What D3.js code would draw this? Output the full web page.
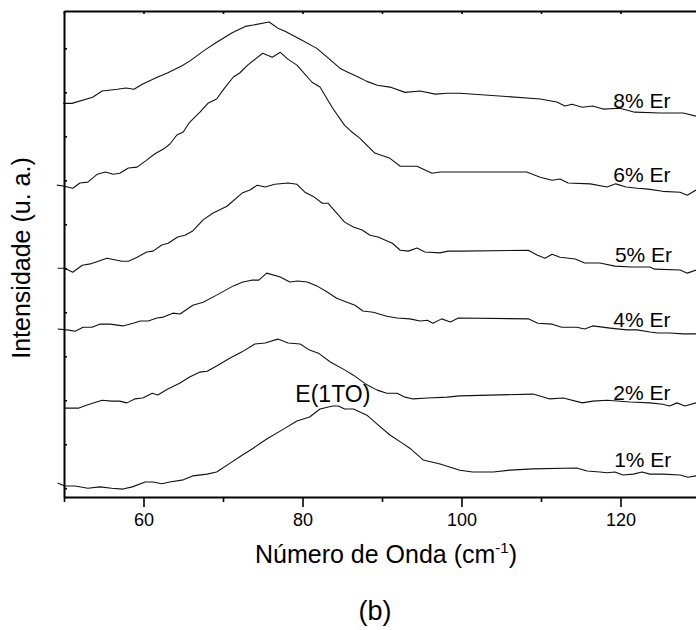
<!DOCTYPE html>
<html>
<head>
<meta charset="utf-8">
<script src="https://cdn.jsdelivr.net/npm/d3@7"></script>
<style>
  html, body { margin: 0; padding: 0; background: #fff; }
  svg { display: block; font-family: "Liberation Sans", Arial, sans-serif; }
</style>
</head>
<body>
<div id="chart"></div>
<script>
// ---- Data (wavenumber in cm^-1, intensity in arbitrary units, offset stacked) ----
const seriesNames = ["8% Er", "6% Er", "5% Er", "4% Er", "2% Er", "1% Er"];

const x8 = [49.9,51.0,53.6,54.8,56.7,57.8,58.8,59.9,61.8,63.0,64.8,65.8,67.7,69.2,71.1,71.8,72.8,73.8,75.8,76.9,77.8,79.7,81.8,83.1,84.7,85.7,87.0,88.1,89.4,91.0,92.9,94.8,96.7,98.2,99.8,109.9,112.0,113.0,113.9,115.2,116.5,117.8,119.9,121.8,125.0,127.9,129.5];
const y8 = [8.75,8.75,8.89,9.03,9.07,9.10,9.07,9.19,9.35,9.44,9.60,9.71,9.96,10.14,10.35,10.41,10.50,10.53,10.60,10.46,10.39,10.21,10.00,9.80,9.55,9.46,9.35,9.25,9.16,9.12,9.00,9.03,8.96,8.98,8.98,8.85,8.78,8.69,8.73,8.66,8.69,8.62,8.64,8.55,8.53,8.53,8.46];

const x6 = [49.1,49.9,51.1,52.0,53.0,54.2,55.2,56.2,57.0,58.1,59.2,60.4,61.4,62.5,63.3,64.2,65.0,65.8,67.1,68.1,69.2,70.0,71.3,72.1,73.1,75.0,76.2,77.2,78.2,79.3,81.2,82.2,83.8,85.3,86.2,87.2,89.1,91.0,92.3,94.4,96.3,97.3,99.8,108.2,109.9,111.4,112.4,113.4,116.2,118.3,119.4,120.7,122.1,123.5,125.3,127.5,128.4,129.5];
const y6 = [6.89,6.87,6.82,6.94,6.96,7.14,7.19,7.14,7.16,7.28,7.30,7.46,7.60,7.71,7.82,8.03,8.10,8.32,8.55,8.75,8.85,9.05,9.35,9.44,9.62,9.89,9.80,9.91,9.75,9.62,9.23,9.12,8.64,8.25,8.10,7.96,7.62,7.50,7.32,7.32,7.16,7.19,7.19,7.19,7.07,7.00,7.03,6.94,6.92,6.85,6.92,6.85,6.82,6.80,6.75,6.73,6.66,6.78];

const x5 = [49.2,50.1,51.1,52.3,53.3,55.4,57.3,58.1,59.2,60.4,61.2,62.3,63.1,64.3,65.2,66.2,67.5,68.7,70.5,72.4,73.4,74.3,75.3,76.5,78.2,79.3,80.3,81.3,82.5,83.2,85.3,86.4,87.5,88.5,89.5,91.3,92.3,93.3,94.4,95.4,97.3,98.3,99.8,108.4,109.5,110.5,111.4,112.4,114.3,115.5,117.4,119.3,121.4,123.7,124.3,127.5,128.4,129.5];
const y5 = [5.00,5.00,4.91,5.07,5.10,5.23,5.16,5.16,5.25,5.37,5.39,5.53,5.57,5.71,5.75,5.85,6.10,6.25,6.41,6.71,6.78,6.89,6.85,6.91,6.94,6.91,6.73,6.64,6.48,6.48,6.05,5.94,5.87,5.75,5.71,5.57,5.41,5.39,5.46,5.37,5.35,5.39,5.39,5.41,5.30,5.23,5.32,5.25,5.21,5.12,5.12,5.05,5.03,5.03,4.98,4.96,4.89,4.96];

const x4 = [49.2,50.4,51.4,52.4,53.5,54.5,55.8,57.4,58.7,59.6,60.6,61.7,62.5,63.7,64.6,66.2,67.5,69.2,71.3,72.5,73.6,74.5,75.5,77.2,78.4,79.4,80.6,81.8,83.1,84.3,85.6,86.6,87.6,88.9,90.6,91.9,93.5,94.8,95.7,96.4,97.5,98.6,99.6,108.4,109.6,111.4,112.6,114.5,115.5,116.5,118.7,120.8,122.1,123.7,124.7,126.2,127.9,129.5];
const y4 = [3.62,3.60,3.57,3.66,3.66,3.73,3.73,3.69,3.75,3.80,3.80,3.87,3.89,3.98,3.96,4.16,4.23,4.39,4.60,4.69,4.73,4.73,4.89,4.80,4.69,4.71,4.69,4.60,4.46,4.32,4.23,4.16,4.03,4.00,3.91,3.87,3.85,3.80,3.82,3.75,3.85,3.78,3.87,3.85,3.75,3.73,3.66,3.66,3.62,3.69,3.64,3.60,3.60,3.55,3.53,3.53,3.51,3.51];

const x2 = [50.0,51.8,52.9,54.8,56.0,57.0,57.9,58.9,59.9,61.1,61.8,63.0,64.6,65.8,67.1,68.0,69.2,70.9,72.4,74.0,75.3,76.9,78.2,79.7,80.9,82.0,83.5,85.3,86.4,88.1,89.4,90.6,91.9,92.9,93.9,95.7,98.2,99.8,109.0,111.1,112.8,115.2,116.5,118.3,121.2,123.7,125.3,126.2,127.1,128.1,129.5];
const y2 = [1.82,1.82,1.89,2.00,1.98,1.98,1.94,2.03,2.05,2.16,2.12,2.25,2.39,2.53,2.64,2.66,2.78,2.96,3.10,3.28,3.30,3.39,3.30,3.28,3.14,3.07,2.87,2.69,2.57,2.35,2.23,2.16,2.16,2.07,2.03,2.05,2.07,2.10,2.14,2.03,2.05,1.94,1.98,2.00,1.96,1.94,1.91,1.87,1.94,1.87,1.94];

const x1 = [49.2,50.1,51.4,53.0,54.5,56.0,57.4,58.6,60.2,61.2,62.3,63.3,65.0,66.2,68.0,69.2,70.9,72.4,73.8,75.5,77.4,79.3,80.9,82.2,83.8,84.5,85.3,86.4,88.1,89.5,91.0,92.5,93.5,95.2,97.3,98.9,99.8,101.4,104.0,106.1,109.0,114.5,115.8,117.4,118.3,119.3,120.3,121.6,122.7,123.7,125.3,127.5,128.5,129.5];
const y1 = [0.12,0.05,0.05,0.00,0.03,0.00,-0.02,0.03,0.14,0.14,0.10,0.14,0.19,0.28,0.32,0.37,0.57,0.75,0.91,1.12,1.32,1.53,1.62,1.80,1.87,1.87,1.80,1.80,1.66,1.44,1.21,1.03,0.91,0.64,0.55,0.46,0.41,0.37,0.37,0.41,0.44,0.46,0.39,0.37,0.35,0.37,0.30,0.32,0.37,0.32,0.32,0.30,0.25,0.28];

const xMajorTicks = [60, 80, 100, 120];
const xMinorTicks = [50, 70, 90, 110, 130];
const xTopTicks = [50, 60, 70, 80, 90, 100, 110, 120, 130];
const yTicks = [0, 1, 2, 3, 4, 5, 6, 7, 8, 9, 10];

// label anchors in data units
const labelX = [119.1, 119.1, 119.3, 119.1, 119.1, 119.2];
const labelY = [8.64, 6.96, 5.14, 3.66, 2.00, 0.48];
const peakLabel = "E(1TO)";
const peakLabelX = 79.1, peakLabelY = 1.96;

const xTitle = "Número de Onda (cm";
const yTitle = "Intensidade (u. a.)";
const panelLabel = "(b)";

// ---- Layout ----
const chartW = 696, chartH = 630;
const plotLeft = 64, plotTop = 11, plotBottom = 497;
const pxPerUnit = 7.95;

const xScale = d3.scaleLinear().domain([50, 130]).range([plotLeft, plotLeft + 80 * pxPerUnit]);
const yScale = d3.scaleLinear().domain([-0.2, 10.85]).range([plotBottom, plotTop]);

const svg = d3.select("#chart").append("svg")
  .attr("width", chartW).attr("height", chartH);

// curves
const seriesX = [x8, x6, x5, x4, x2, x1];
const seriesY = [y8, y6, y5, y4, y2, y1];
const lineGen = d3.line().x(d => xScale(d[0])).y(d => yScale(d[1]));

seriesX.forEach((xs, i) => {
  const pts = xs.map((v, j) => [v, seriesY[i][j]]);
  svg.append("path")
    .attr("d", lineGen(pts))
    .attr("fill", "none")
    .attr("stroke", "#111")
    .attr("stroke-width", 1.1)
    .attr("stroke-linejoin", "round");
});

// axes
const styleAxis = g => {
  g.selectAll(".domain").attr("stroke", "#000").attr("stroke-width", 2);
  g.selectAll(".tick line").attr("stroke", "#000").attr("stroke-width", 1.6);
};

// bottom major
svg.append("g")
  .attr("transform", `translate(0,${plotBottom})`)
  .call(d3.axisBottom(xScale).tickValues(xMajorTicks).tickSizeInner(10).tickSizeOuter(0).tickPadding(6).tickFormat(d3.format("d")))
  .call(styleAxis)
  .call(g => g.selectAll(".tick text")
    .attr("font-size", 18)
    .attr("font-family", "Liberation Sans, Arial, sans-serif")
    .attr("fill", "#000"));

// bottom minor
svg.append("g")
  .attr("transform", `translate(0,${plotBottom})`)
  .call(d3.axisBottom(xScale).tickValues(xMinorTicks).tickSizeInner(5).tickSizeOuter(0).tickFormat(""))
  .call(styleAxis)
  .call(g => g.select(".domain").remove());

// top axis with inward ticks
svg.append("g")
  .attr("transform", `translate(0,${plotTop})`)
  .call(d3.axisTop(xScale).tickValues(xTopTicks).tickSizeInner(-3).tickSizeOuter(0).tickFormat(""))
  .call(styleAxis);

// left axis with inward ticks
svg.append("g")
  .attr("transform", `translate(${plotLeft},0)`)
  .call(d3.axisLeft(yScale).tickValues(yTicks).tickSizeInner(-3).tickSizeOuter(0).tickFormat(""))
  .call(styleAxis);

// curve labels
seriesNames.forEach((name, i) => {
  svg.append("text")
    .attr("x", xScale(labelX[i]))
    .attr("y", yScale(labelY[i]))
    .attr("font-size", 21)
    .attr("fill", "#000")
    .text(name);
});

svg.append("text")
  .attr("x", xScale(peakLabelX))
  .attr("y", yScale(peakLabelY))
  .attr("font-size", 23)
  .attr("fill", "#000")
  .text(peakLabel);

// x title with superscript
const xt = svg.append("text")
  .attr("x", 386)
  .attr("y", 563)
  .attr("text-anchor", "middle")
  .attr("font-size", 25)
  .attr("fill", "#000");
xt.append("tspan").text(xTitle);
xt.append("tspan").attr("font-size", 15).attr("dy", -10).text("-1");
xt.append("tspan").attr("dy", 10).text(")");

// y title
svg.append("text")
  .attr("transform", "translate(30,258) rotate(-90)")
  .attr("text-anchor", "middle")
  .attr("font-size", 25)
  .attr("fill", "#000")
  .text(yTitle);

// panel label
svg.append("text")
  .attr("x", 375)
  .attr("y", 620)
  .attr("text-anchor", "middle")
  .attr("font-size", 27)
  .attr("fill", "#000")
  .text(panelLabel);
</script>
</body>
</html>
